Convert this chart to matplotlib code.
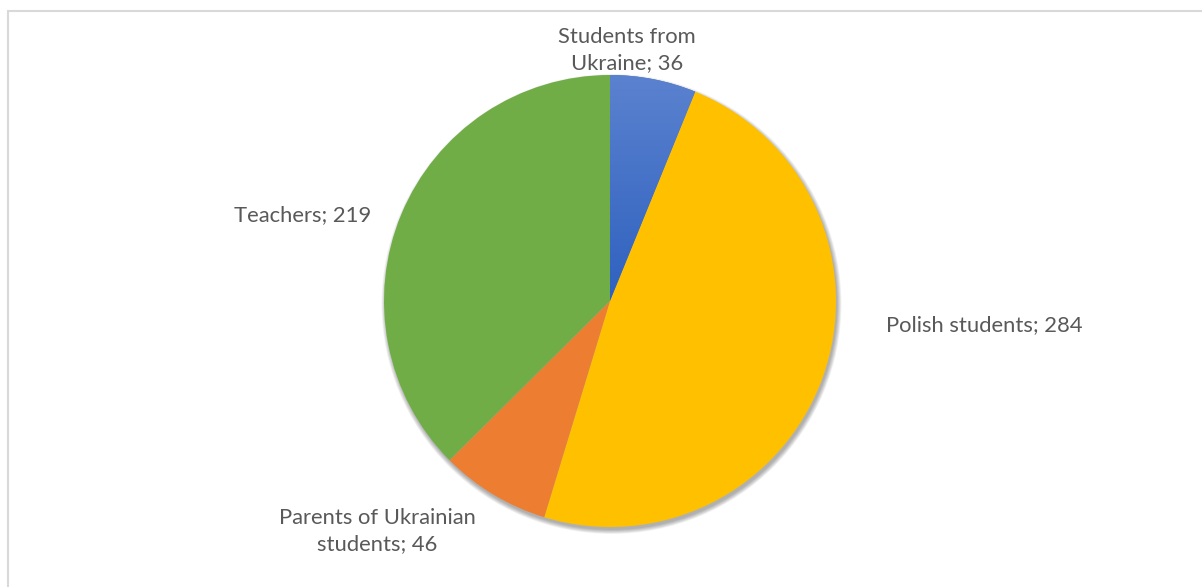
import numpy as np
import matplotlib
matplotlib.use("Agg")
import matplotlib.pyplot as plt
from matplotlib.patches import Circle, Rectangle
from matplotlib.colors import LinearSegmentedColormap

# Survey respondents by group
groups = ["Students from\nUkraine", "Polish students", "Parents of Ukrainian\nstudents", "Teachers"]
counts = [36, 284, 46, 219]
colors = ["#4472C4", "#FFC000", "#ED7D31", "#70AD47"]

W, H = 1202, 587
fig = plt.figure(figsize=(W / 100, H / 100), dpi=100)
ax = fig.add_axes([0, 0, 1, 1])

# chart-area frame (runs past the right and bottom edges)
ax.add_patch(Rectangle((7.5, -10), W + 20, H - 10.5 + 10, fill=False,
                       edgecolor="#d9d9d9", linewidth=1.5, zorder=0))

cx, cy, r = 610, H - 301, 226

# soft drop shadow
for i in range(8):
    ax.add_patch(Circle((cx + 1.5, cy - 3), r + 4 - i * 0.6, facecolor="#000000",
                        alpha=0.045, edgecolor="none", zorder=1))

wedges, _ = ax.pie(counts, colors=colors, startangle=90, counterclock=False,
                   center=(cx, cy), radius=r, frame=True,
                   wedgeprops=dict(linewidth=0, zorder=2))
ax.set_xlim(0, W)
ax.set_ylim(0, H)
ax.set_aspect("equal")
ax.axis("off")

# vertical gradient on the first slice
grad = LinearSegmentedColormap.from_list("blue", ["#2e61bf", "#5b82cf"])
img = ax.imshow(np.linspace(0, 1, 256).reshape(-1, 1), cmap=grad, origin="lower",
                extent=(cx, cx + r, cy, cy + r), aspect="auto", zorder=3)
img.set_clip_path(wedges[0])
ax.set_xlim(0, W)
ax.set_ylim(0, H)

font = dict(family=["Lato", "DejaVu Sans"], fontsize=15.8, color="#595959")
ax.text(627, H - 50, f"{groups[0]}; {counts[0]}", ha="center", va="center",
        linespacing=1.35, **font)
ax.text(886, H - 325, f"{groups[1]}; {counts[1]}", ha="left", va="center", **font)
ax.text(377, H - 531, f"{groups[2]}; {counts[2]}", ha="center", va="center",
        linespacing=1.35, **font)
ax.text(371, H - 215, f"{groups[3]}; {counts[3]}", ha="right", va="center", **font)

fig.savefig("out.png", dpi=100, facecolor="white")
